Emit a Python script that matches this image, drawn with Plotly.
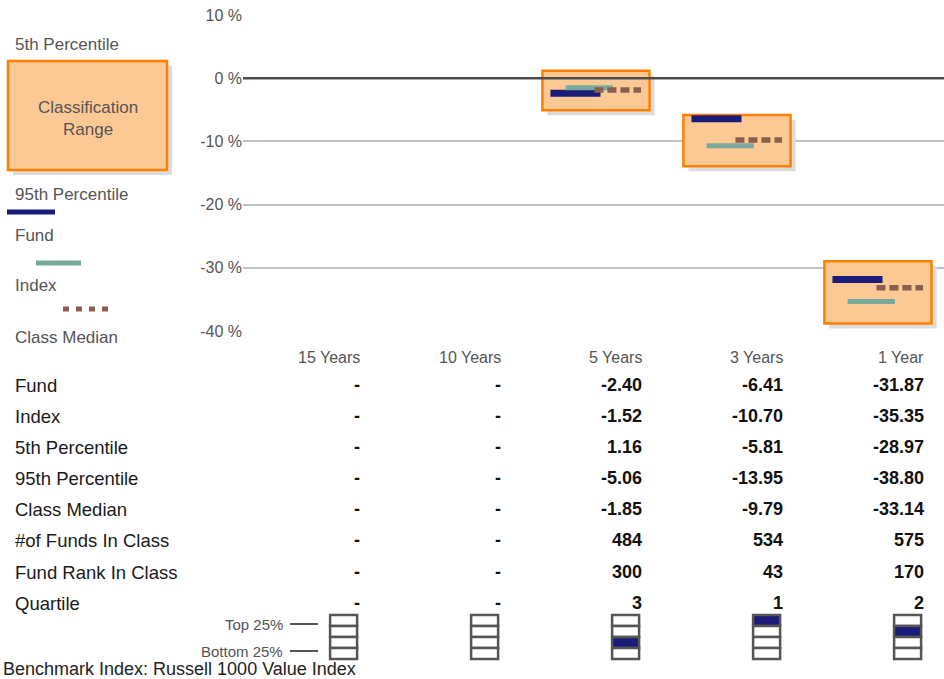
import plotly.graph_objects as go

# ---------------- data ----------------
periods = ["15 Years", "10 Years", "5 Years", "3 Years", "1 Year"]
fund = [None, None, -2.40, -6.41, -31.87]
index_ret = [None, None, -1.52, -10.70, -35.35]
pct5 = [None, None, 1.16, -5.81, -28.97]
pct95 = [None, None, -5.06, -13.95, -38.80]
median = [None, None, -1.85, -9.79, -33.14]
n_funds = [None, None, 484, 534, 575]
fund_rank = [None, None, 300, 43, 170]
quartile = [None, None, 3, 1, 2]

row_labels = ["Fund", "Index", "5th Percentile", "95th Percentile", "Class Median",
              "#of Funds In Class", "Fund Rank In Class", "Quartile"]
y_ticks = [10, 0, -10, -20, -30, -40]
y_tick_text = ["10 %", "0 %", "-10 %", "-20 %", "-30 %", "-40 %"]
benchmark = "Benchmark Index: Russell 1000 Value Index"

# ---------------- style ----------------
W, H = 944, 679
FONT = "Arial, Liberation Sans, sans-serif"
NAVY = "#1b1b7a"
TEAL = "#79a99a"
BROWN = "#8a5f4c"
PEACH = "#fcc995"
ORANGE = "#ff8000"
SHADOW = "#dcdcdc"
GRAY_TXT = "#555555"


def py(px):
    return 1 - px / H


def pxx(px):
    return px / W


PX_PER_UNIT = 141.0
x_dom0 = 243 / W
x_range = [-0.5035, -0.5035 + (W - 243) / PX_PER_UNIT]
y_dom = [py(331), py(15)]
y_range = [-40, 10]
px_per_pct = (331 - 15) / 50.0

fig = go.Figure()
shapes = []
ann = []

xs = list(range(len(periods)))

# classification range boxes (with shadow)
sx = 5 / PX_PER_UNIT
sy = 5 / px_per_pct
for i in xs:
    if pct5[i] is None:
        continue
    shapes.append(dict(type="rect", xref="x", yref="y", x0=i - 0.38 + sx, x1=i + 0.38 + sx,
                       y0=pct95[i] - sy, y1=pct5[i] - sy, fillcolor=SHADOW,
                       line=dict(width=0), layer="between"))
    shapes.append(dict(type="rect", xref="x", yref="y", x0=i - 0.38, x1=i + 0.38,
                       y0=pct95[i], y1=pct5[i], fillcolor=PEACH,
                       line=dict(color=ORANGE, width=2.5), layer="between"))

# zero line on top of boxes
shapes.append(dict(type="line", xref="paper", yref="y", x0=x_dom0, x1=1, y0=0, y1=0,
                   line=dict(color="#4d4d4d", width=2.5), layer="above"))


def seg_trace(vals, a, b, color, width, dash=None):
    xx, yy = [], []
    for i in xs:
        if vals[i] is None:
            continue
        xx += [i + a, i + b, None]
        yy += [vals[i], vals[i], None]
    line = dict(color=color, width=width)
    if dash:
        line["dash"] = dash
    return go.Scatter(x=xx, y=yy, mode="lines", line=line, hoverinfo="skip", showlegend=False)


fig.add_trace(seg_trace(fund, -0.323, 0.032, NAVY, 7))
fig.add_trace(seg_trace(index_ret, -0.216, 0.12, TEAL, 5))
fig.add_trace(seg_trace(median, -0.011, 0.319, BROWN, 5.5, dash="9px,4px"))

# ---------------- category labels & table ----------------
col_off = 0.34
for i, p in enumerate(periods):
    ann.append(dict(xref="x", yref="paper", x=i + col_off, y=py(357), text=p,
                    xanchor="right", yanchor="middle", showarrow=False,
                    font=dict(family=FONT, size=16, color=GRAY_TXT)))

row_y = [385, 416, 447, 478, 509, 540, 572, 603]
rows = [fund, index_ret, pct5, pct95, median, n_funds, fund_rank, quartile]
for r, (lab, vals, yy) in enumerate(zip(row_labels, rows, row_y)):
    ann.append(dict(xref="paper", yref="paper", x=pxx(13), y=py(yy), text=lab,
                    xanchor="left", yanchor="middle", showarrow=False,
                    font=dict(family=FONT, size=18.5, color="#1a1a1a")))
    for i in xs:
        v = vals[i]
        if v is None:
            txt = "-"
        elif isinstance(v, float):
            txt = f"{v:.2f}"
        else:
            txt = str(v)
        ann.append(dict(xref="x", yref="paper", x=i + col_off, y=py(yy), text=f"<b>{txt}</b>",
                        xanchor="right", yanchor="middle", showarrow=False,
                        font=dict(family=FONT, size=18, color="#111111")))

# quartile icons
icon_c = 0.21
icon_hw = 13.5 / PX_PER_UNIT
icon_top, cell_h = 615, 11
for i in xs:
    for c in range(4):
        filled = quartile[i] is not None and quartile[i] - 1 == c
        shapes.append(dict(type="rect", xref="x", yref="paper",
                           x0=i + icon_c - icon_hw, x1=i + icon_c + icon_hw,
                           y0=py(icon_top + (c + 1) * cell_h), y1=py(icon_top + c * cell_h),
                           fillcolor=NAVY if filled else "white",
                           line=dict(color="#555555", width=2.5)))

# Top / Bottom 25% pointers
for lab, yy in [("Top 25%", 624), ("Bottom 25%", 651)]:
    ann.append(dict(xref="paper", yref="paper", x=pxx(284), y=py(yy), text=lab,
                    xanchor="right", yanchor="middle", showarrow=False, borderpad=0,
                    font=dict(family=FONT, size=15, color=GRAY_TXT)))
    shapes.append(dict(type="line", xref="paper", yref="paper", x0=pxx(290), x1=pxx(318),
                       y0=py(yy), y1=py(yy), line=dict(color="#555555", width=2)))

ann.append(dict(xref="paper", yref="paper", x=pxx(2), y=py(669), text=benchmark,
                xanchor="left", yanchor="middle", showarrow=False, borderpad=0,
                font=dict(family=FONT, size=18, color="#222222")))

# ---------------- left legend ----------------
shapes.append(dict(type="rect", xref="paper", yref="paper", x0=pxx(13), x1=pxx(172),
                   y0=py(175), y1=py(66), fillcolor=SHADOW, line=dict(width=0)))
shapes.append(dict(type="rect", xref="paper", yref="paper", x0=pxx(8), x1=pxx(167),
                   y0=py(170), y1=py(61), fillcolor=PEACH, line=dict(color=ORANGE, width=2.5)))
ann.append(dict(xref="paper", yref="paper", x=pxx(88), y=py(118),
                text="Classification<br>Range", xanchor="center", yanchor="middle",
                showarrow=False, align="center",
                font=dict(family=FONT, size=17, color=GRAY_TXT)))
for lab, yy in [("5th Percentile", 45), ("95th Percentile", 195), ("Fund", 235),
                ("Index", 285), ("Class Median", 337)]:
    ann.append(dict(xref="paper", yref="paper", x=pxx(13), y=py(yy), text=lab,
                    xanchor="left", yanchor="middle", showarrow=False,
                    font=dict(family=FONT, size=17, color=GRAY_TXT)))
shapes.append(dict(type="line", xref="paper", yref="paper", x0=pxx(7), x1=pxx(55),
                   y0=py(212), y1=py(212), line=dict(color=NAVY, width=5)))
shapes.append(dict(type="line", xref="paper", yref="paper", x0=pxx(36), x1=pxx(81),
                   y0=py(263), y1=py(263), line=dict(color=TEAL, width=5)))
shapes.append(dict(type="line", xref="paper", yref="paper", x0=pxx(63), x1=pxx(110),
                   y0=py(309), y1=py(309), line=dict(color=BROWN, width=5, dash="6px,7px")))

fig.update_layout(
    width=W, height=H,
    margin=dict(l=0, r=0, t=0, b=0, pad=0),
    paper_bgcolor="white", plot_bgcolor="white",
    showlegend=False,
    shapes=shapes, annotations=ann,
    xaxis=dict(domain=[x_dom0, 1], range=x_range, showgrid=False, zeroline=False,
               showticklabels=False, showline=False, fixedrange=True, automargin=False),
    yaxis=dict(domain=y_dom, range=y_range, tickmode="array", tickvals=y_ticks,
               ticktext=y_tick_text,
               showgrid=True, gridcolor="#c3c3c3", gridwidth=2, zeroline=False,
               showline=False, ticks="", ticklabelstandoff=0, automargin=False,
               tickfont=dict(family=FONT, size=16, color=GRAY_TXT), fixedrange=True),
)

fig.write_html("out.html")
